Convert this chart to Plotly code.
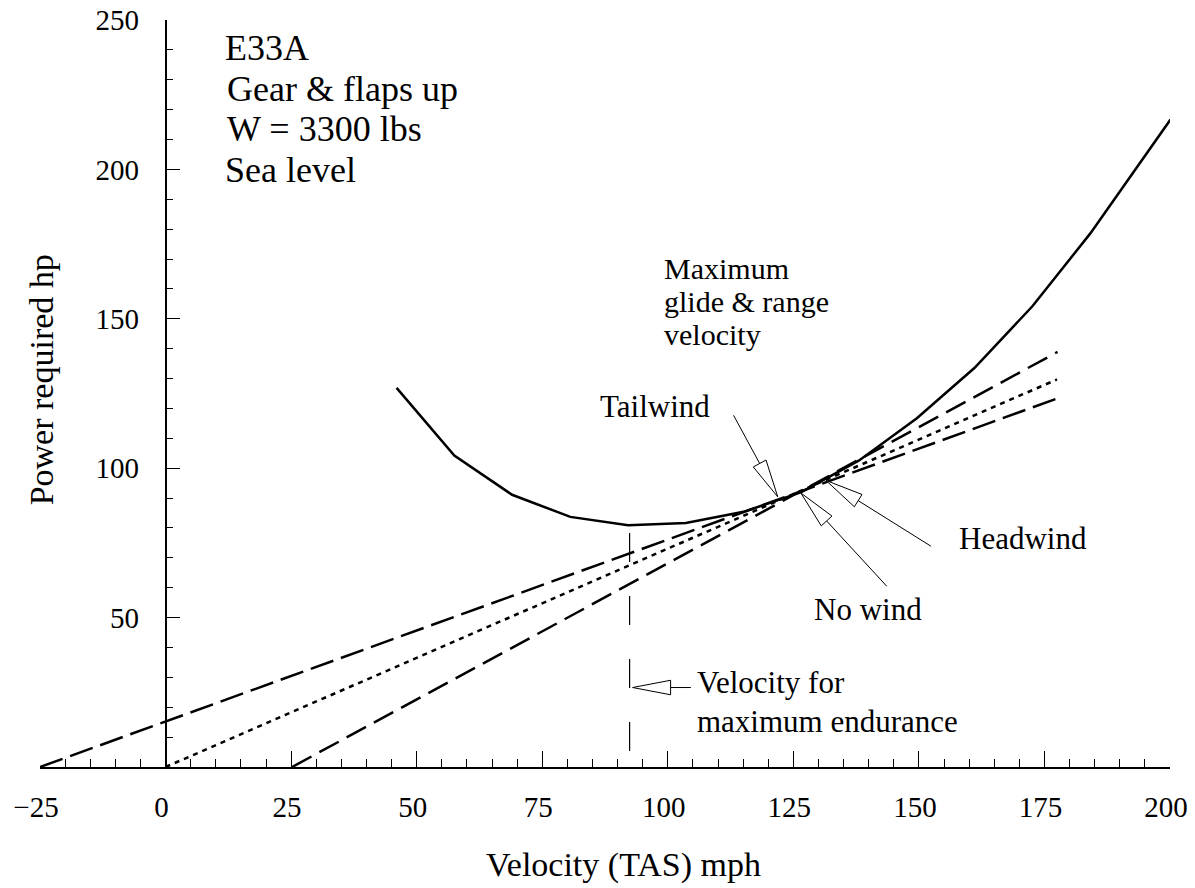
import math
import plotly.graph_objects as go

# ---------------- data ----------------
# Power-required curve (E33A, gear & flaps up, W = 3300 lbs, sea level)
velocity_mph = [46.0, 57.5, 69.0, 80.6, 92.1, 103.6, 115.1, 126.6, 138.1,
                149.6, 161.1, 172.6, 184.1, 195.6, 200.1]
power_hp = [126.9, 104.2, 91.1, 83.7, 80.9, 81.7, 85.4, 92.0, 102.6,
            116.7, 133.6, 154.2, 178.5, 206.0, 216.7]

# Tangent lines from wind-shifted origins
tailwind_x = [-25.0, 178.3]
tailwind_y = [0.0, 123.8]
nowind_x = [0.0, 177.5]
nowind_y = [0.0, 129.7]
headwind_x = [25.2, 177.6]
headwind_y = [0.0, 138.9]

# Velocity for maximum endurance marker
endurance_x = [92.4, 92.4]
endurance_y = [78.3, 5.0]

# Arrow callouts (tip on the chart, tail at the label)
arrow_tip_x = [121.9, 126.5, 131.5, 93.0]
arrow_tip_y = [90.4, 91.7, 95.9, 26.6]
arrow_tail_x = [113.1, 143.6, 152.4, 104.6]
arrow_tail_y = [117.7, 60.5, 73.9, 26.6]

# Text labels (left edge x, centre y, text, size)
label_text = ["E33A", "Gear & flaps up", "W = 3300 lbs", "Sea level",
              "Maximum", "glide & range", "velocity",
              "Tailwind", "No wind", "Headwind",
              "Velocity for", "maximum endurance"]
label_x = [11.7, 12.1, 12.1, 11.7,
           99.1, 99.1, 99.1,
           86.4, 128.9, 157.7,
           105.6, 105.6]
label_y = [240.5, 227.0, 213.4, 199.7,
           166.9, 155.8, 144.6,
           120.5, 52.8, 76.5,
           28.2, 15.3]
label_size = [36, 36, 36, 36,
              30, 30, 30,
              31, 31, 31,
              31, 31]

x_ticks = [-25, 0, 25, 50, 75, 100, 125, 150, 175, 200]
y_ticks = [50, 100, 150, 200, 250]

# ---------------- layout geometry ----------------
W, H = 1195, 888
ML, MR, MT, MB = 40, 25, 20, 121
X_RANGE = [-25, 200]
Y_RANGE = [0, 250]
PW = W - ML - MR
PH = H - MT - MB
FONT = "Liberation Serif, Times New Roman, serif"


def x2px(x):
    return ML + (x - X_RANGE[0]) / (X_RANGE[1] - X_RANGE[0]) * PW


def y2px(y):
    return MT + (Y_RANGE[1] - y) / (Y_RANGE[1] - Y_RANGE[0]) * PH


def px2x(p):
    return X_RANGE[0] + (p - ML) / PW * (X_RANGE[1] - X_RANGE[0])


def px2y(p):
    return Y_RANGE[1] - (p - MT) / PH * (Y_RANGE[1] - Y_RANGE[0])


fig = go.Figure()

fig.add_trace(go.Scatter(x=velocity_mph, y=power_hp, mode="lines",
                         line=dict(color="black", width=2.5), showlegend=False))
fig.add_trace(go.Scatter(x=tailwind_x, y=tailwind_y, mode="lines",
                         line=dict(color="black", width=2.5, dash="24px,8px"),
                         showlegend=False))
fig.add_trace(go.Scatter(x=nowind_x, y=nowind_y, mode="lines",
                         line=dict(color="black", width=2.5, dash="5px,5px"),
                         showlegend=False))
fig.add_trace(go.Scatter(x=headwind_x, y=headwind_y, mode="lines",
                         line=dict(color="black", width=2.5, dash="22px,9px"),
                         showlegend=False))
fig.add_trace(go.Scatter(x=endurance_x, y=endurance_y, mode="lines",
                         line=dict(color="black", width=1.2, dash="29px,34px"),
                         showlegend=False))

# Open-triangle arrows
shapes = []
TRI_LEN, TRI_W = 38.0, 14.5
for tx, ty, sx, sy in zip(arrow_tip_x, arrow_tip_y, arrow_tail_x, arrow_tail_y):
    Tx, Ty = x2px(tx), y2px(ty)
    Sx, Sy = x2px(sx), y2px(sy)
    d = math.hypot(Sx - Tx, Sy - Ty)
    ux, uy = (Sx - Tx) / d, (Sy - Ty) / d
    nx, ny = -uy, ux
    Bx, By = Tx + TRI_LEN * ux, Ty + TRI_LEN * uy
    c1 = (Bx + TRI_W / 2 * nx, By + TRI_W / 2 * ny)
    c2 = (Bx - TRI_W / 2 * nx, By - TRI_W / 2 * ny)
    path = "M {},{} L {},{} L {},{} Z".format(
        tx, ty, px2x(c1[0]), px2y(c1[1]), px2x(c2[0]), px2y(c2[1]))
    shapes.append(dict(type="path", path=path, xref="x", yref="y",
                       fillcolor="white", line=dict(color="black", width=1)))
    shapes.append(dict(type="line", xref="x", yref="y",
                       x0=px2x(Bx), y0=px2y(By), x1=sx, y1=sy,
                       line=dict(color="black", width=1)))

annotations = []
for t, x, y, s in zip(label_text, label_x, label_y, label_size):
    annotations.append(dict(text=t, x=x, y=y, xref="x", yref="y",
                            xanchor="left", yanchor="middle", showarrow=False,
                            borderpad=0,
                            font=dict(family=FONT, size=s, color="black")))

# Axis titles
annotations.append(dict(text="Velocity (TAS) mph", x=(x2px(91.1) - ML) / PW,
                        y=-0.131, xref="paper", yref="paper",
                        xanchor="center", yanchor="middle", showarrow=False,
                        font=dict(family=FONT, size=34, color="black")))
annotations.append(dict(text="Power required hp", x=-24.8, y=129.4,
                        xref="x", yref="y", textangle=-90,
                        xanchor="center", yanchor="middle", showarrow=False,
                        font=dict(family=FONT, size=34, color="black")))

fig.update_layout(
    width=W, height=H,
    margin=dict(l=ML, r=MR, t=MT, b=MB, autoexpand=False),
    paper_bgcolor="white", plot_bgcolor="white",
    showlegend=False,
    shapes=shapes,
    annotations=annotations,
    xaxis=dict(range=X_RANGE, showgrid=False, zeroline=False, automargin=False,
               showline=True, linecolor="black", linewidth=1.5,
               ticks="inside", ticklen=16, tickwidth=1, tickcolor="black",
               tickvals=x_ticks,
               ticktext=[("\u221225" if v < 0 else str(v)) for v in x_ticks],
               tickfont=dict(family=FONT, size=29, color="black"),
               ticklabelstandoff=13, ticklabelshift=-4,
               ticklabeloverflow="allow",
               minor=dict(ticks="inside", ticklen=8, dtick=5, tick0=0,
                          tickcolor="black", tickwidth=1)),
    yaxis=dict(range=Y_RANGE, showgrid=False, zeroline=False, automargin=False,
               anchor="free",
               position=(0 - X_RANGE[0]) / (X_RANGE[1] - X_RANGE[0]),
               showline=True, linecolor="black", linewidth=1.5,
               ticks="inside", ticklen=14, tickwidth=1, tickcolor="black",
               tickvals=y_ticks,
               tickfont=dict(family=FONT, size=29, color="black"),
               ticklabelstandoff=20, ticklabeloverflow="allow",
               minor=dict(ticks="inside", ticklen=7, dtick=10, tick0=0,
                          tickcolor="black", tickwidth=1)),
)

# remove the default 8 px page margin so the figure fills the window exactly
fig.write_html("out.html",
               config={"displayModeBar": False},
               post_script="document.body.style.margin='0px';")
